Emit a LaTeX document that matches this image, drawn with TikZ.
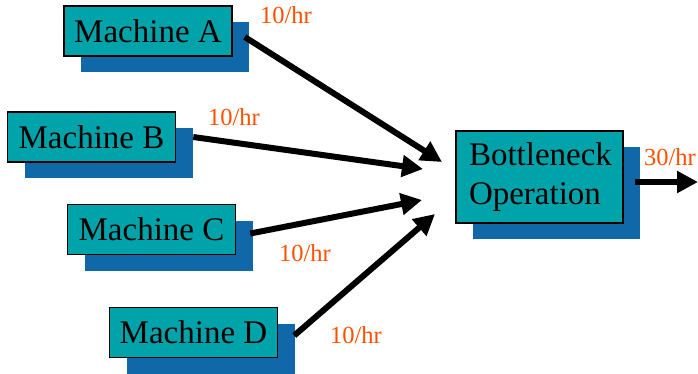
\documentclass[tikz,border=0pt]{standalone}
\usepackage{fontspec}
\setmainfont{Liberation Serif}
\usetikzlibrary{positioning,shadows,arrows.meta}
\definecolor{boxteal}{RGB}{0,163,170}
\definecolor{shblue}{RGB}{16,104,168}
\definecolor{rateorange}{RGB}{255,80,0}

\tikzset{
  machine/.style={draw,line width=1.5pt,fill=boxteal,minimum width=168pt,minimum height=50pt,inner sep=0pt,
    font=\fontsize{33}{39}\selectfont,
    drop shadow={shadow xshift=17pt,shadow yshift=-16pt,fill=shblue,opacity=1}},
  rate/.style={text=rateorange,font=\fontsize{24.5}{28}\selectfont,inner sep=0pt},
  flow/.style={line width=6pt,-{Triangle[length=21pt,width=21pt]}}
}

\begin{document}
\begin{tikzpicture}[x=1pt,y=-1pt]
        \useasboundingbox (0,0) rectangle (698,373);

        \node[machine] (mA) at (148,31)    {Machine A};
        \node[machine] (mB) at (91.5,137)  {Machine B};
        \node[machine] (mC) at (151.5,229.5) {Machine C};
        \node[machine] (mD) at (193.5,332.5) {Machine D};
        \node[machine,minimum width=167pt,minimum height=92pt,text width=141pt,align=left] (bn) at (539.5,177)
          {Bottleneck\\Operation};

        % arrow ends in front of the bottleneck
        \coordinate (tA) at (442,162);
        \coordinate (tB) at (423,169);
        \coordinate (tC) at (422,200);
        \coordinate (tD) at (435,214);
        \coordinate (out) at (698,182);

        \draw[flow] ([xshift=12pt,yshift=-6pt]mA.east) -- (tA);
        \draw[flow] ([xshift=17pt]mB.east) -- (tB);
        \draw[flow] ([xshift=14pt,yshift=-4pt]mC.east) -- (tC);
        \draw[flow] ([xshift=16pt,yshift=-3pt]mD.east) -- (tD);
        \draw[flow] ([xshift=11pt,yshift=-5pt]bn.east) -- (out);

        \node[rate] (rA) at (286,15)  {10/hr};
        \node[rate] (rB) at (234,117) {10/hr};
        \node[rate] (rC) at (305,253) {10/hr};
        \node[rate] (rD) at (356,335) {10/hr};
        \node[rate] (rout) at (670,157) {30/hr};
      \end{tikzpicture}
\end{document}
